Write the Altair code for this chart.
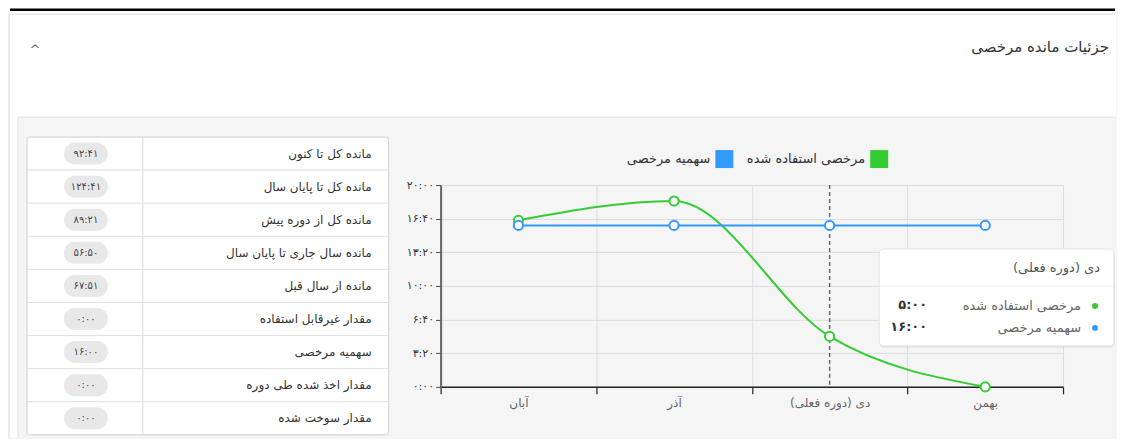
import altair as alt
import pandas as pd

FA_DIGITS = str.maketrans("0123456789", "۰۱۲۳۴۵۶۷۸۹")


def fa(s):
    return s.translate(FA_DIGITS)


def fa_hm(minutes):
    return fa(f"{minutes // 60}:{minutes % 60:02d}")


FONT = "DejaVu Sans"

# ---------------- data ----------------
panel_title = "جزئیات مانده مرخصی"
chevron = "^"

months = ["آبان", "آذر", "دی (دوره فعلی)", "بهمن"]
current_month = "دی (دوره فعلی)"
series_names = ["سهمیه مرخصی", "مرخصی استفاده شده"]
series_colors = ["#3399ff", "#33cc33"]
used_minutes = [990, 1105, 300, 0]
quota_minutes = [960, 960, 960, 960]

y_ticks = [0, 200, 400, 600, 800, 1000, 1200]
y_tick_labels = ["0:00", "3:20", "6:40", "10:00", "13:20", "16:40", "20:00"]

table_labels = [
    "مانده کل تا کنون",
    "مانده کل تا پایان سال",
    "مانده کل از دوره پیش",
    "مانده سال جاری تا پایان سال",
    "مانده از سال قبل",
    "مقدار غیرقابل استفاده",
    "سهمیه مرخصی",
    "مقدار اخذ شده طی دوره",
    "مقدار سوخت شده",
]
table_values = ["92:41", "124:41", "89:21", "56:50", "67:51", "0:00", "16:00", "0:00", "0:00"]

# ---------------- tables ----------------
W, H = 623, 202

one = pd.DataFrame({"k": [0]})
header_df = pd.DataFrame({"title": [panel_title], "chev": [chevron]})

line_df = pd.DataFrame(
    {
        "month": months * 2,
        "series": [series_names[1]] * len(months) + [series_names[0]] * len(months),
        "minutes": used_minutes + quota_minutes,
    }
)
used_df = line_df[line_df.series == series_names[1]]
quota_df = line_df[line_df.series == series_names[0]]
rule_df = pd.DataFrame({"month": [current_month]})

table_df = pd.DataFrame(
    {"label": table_labels, "value": [fa(v) for v in table_values]}
)

cur_idx = months.index(current_month)
tip_title_df = pd.DataFrame({"t": [current_month]})
tip_used_df = pd.DataFrame({"name": [series_names[1]], "val": [fa_hm(used_minutes[cur_idx])]})
tip_quota_df = pd.DataFrame({"name": [series_names[0]], "val": [fa_hm(quota_minutes[cur_idx])]})
leg_quota_df = pd.DataFrame({"name": [series_names[0]]})
leg_used_df = pd.DataFrame({"name": [series_names[1]]})

# ---------------- decoration ----------------
def vrect(df, x, x2, y, y2, **kw):
    return alt.Chart(df).mark_rect(**kw).encode(
        x=alt.value(x), x2=alt.value(x2), y=alt.value(y), y2=alt.value(y2)
    )


def hrule(x, x2, y, **kw):
    return alt.Chart(one).mark_rule(**kw).encode(
        x=alt.value(x), x2=alt.value(x2), y=alt.value(y)
    )


def vrule(x, y, y2, **kw):
    return alt.Chart(one).mark_rule(**kw).encode(
        x=alt.value(x), y=alt.value(y), y2=alt.value(y2)
    )


L, R, T, B = -433, 676, -177, 253
TB = 250  # table bottom

deco = [
    vrect(one, L, R, T, -68, fill="white"),
    vrect(one, L, -423, -68, B, fill="white"),
    hrule(-431, R - 1, -175.5, color="black", strokeWidth=2.5),
    hrule(-432, R - 1, -171, color="#dcdcdc", strokeWidth=1),
    vrule(-432, -171, B, color="#dcdcdc", strokeWidth=1),
    hrule(-423, R - 1, -68, color="#e0e0e0", strokeWidth=1),
    vrule(-423, -68, B, color="#e0e0e0", strokeWidth=1),
    alt.Chart(header_df).mark_text(
        align="right", baseline="middle", font=FONT, fontSize=15, color="#333"
    ).encode(x=alt.value(669), y=alt.value(-138), text="title:N"),
    alt.Chart(header_df).mark_text(
        align="center", baseline="middle", font=FONT, fontSize=13, color="#666"
    ).encode(x=alt.value(-406), y=alt.value(-135), text="chev:N"),
]

# ---------------- table ----------------
ty = alt.Y(
    "label:N",
    sort=table_labels,
    scale=alt.Scale(domain=table_labels, range=[-48, TB], paddingInner=0, paddingOuter=0),
    axis=None,
)
tbase = alt.Chart(table_df)
table = alt.layer(
    tbase.mark_rect(fill="white", stroke="#e2e2e2", strokeWidth=1).encode(
        y=ty, x=alt.value(-414), x2=alt.value(-298)
    ),
    tbase.mark_rect(fill="white", stroke="#e2e2e2", strokeWidth=1).encode(
        y=ty, x=alt.value(-298), x2=alt.value(-52)
    ),
    tbase.mark_rect(fill="#e8e8e8", cornerRadius=11, height=22).encode(
        y=ty, x=alt.value(-377), x2=alt.value(-333)
    ),
    tbase.mark_text(font=FONT, fontSize=10, color="#444", baseline="middle").encode(
        y=ty, x=alt.value(-355), text="value:N"
    ),
    tbase.mark_text(
        font=FONT, fontSize=12, color="#333", align="right", baseline="middle"
    ).encode(y=ty, x=alt.value(-69), text="label:N"),
    vrect(one, -414, -52, -48, TB, fill="transparent", stroke="#d8d8d8", cornerRadius=4),
)

# ---------------- line chart ----------------
label_expr = " : ".join(
    f"datum.value == {v} ? '{fa(l)}'" for v, l in zip(y_ticks, y_tick_labels)
) + " : ''"

x_axis = alt.Axis(
    title=None,
    tickBand="extent",
    grid=True,
    gridColor="#dddddd",
    domainColor="#222222",
    domainWidth=1.5,
    tickColor="#222222",
    tickSize=7,
    tickWidth=1.2,
    labelColor="#666666",
    labelFontSize=12,
    labelFont=FONT,
    labelPadding=4,
    labelAngle=0,
)
y_axis = alt.Axis(
    title=None,
    values=y_ticks,
    labelExpr=label_expr,
    grid=True,
    gridColor="#dddddd",
    domainColor="#666666",
    domainWidth=2,
    tickColor="#444444",
    tickSize=5,
    labelColor="#333333",
    labelFontSize=11,
    labelFont=FONT,
    labelPadding=2,
)

xs = alt.Scale(type="band", domain=months, paddingInner=0, paddingOuter=0)
ys = alt.Scale(domain=[0, 1200], nice=False)
X = alt.X("month:N", sort=months, scale=xs, bandPosition=0.5, axis=x_axis)
Y = alt.Y("minutes:Q", scale=ys, axis=y_axis)
cscale = alt.Scale(domain=series_names, range=series_colors)

lines = alt.layer(
    alt.Chart(rule_df).mark_rule(color="#666666", strokeDash=[4, 3], strokeWidth=1.5).encode(
        x=X, y=alt.value(0), y2=alt.value(H)
    ),
    alt.Chart(used_df).mark_line(interpolate="monotone", strokeWidth=2).encode(
        x=X, y=Y, color=alt.Color("series:N", scale=cscale, legend=None)
    ),
    alt.Chart(quota_df).mark_line(strokeWidth=2).encode(
        x=X, y=Y, color=alt.Color("series:N", scale=cscale, legend=None)
    ),
    alt.Chart(used_df).mark_point(filled=True, size=85, strokeWidth=2, opacity=1).encode(
        x=X, y=Y, fill=alt.value("white"),
        stroke=alt.Stroke("series:N", scale=cscale, legend=None),
    ),
    alt.Chart(quota_df).mark_point(filled=True, size=85, strokeWidth=2, opacity=1).encode(
        x=X, y=Y, fill=alt.value("white"),
        stroke=alt.Stroke("series:N", scale=cscale, legend=None),
    ),
)

# ---------------- legend (RTL: label left of swatch) ----------------
legend_layers = []
for df, color, sx in [(leg_quota_df, series_colors[0], 284), (leg_used_df, series_colors[1], 439)]:
    legend_layers += [
        alt.Chart(df).mark_square(size=324, filled=True, opacity=1).encode(
            x=alt.value(sx), y=alt.value(-26), color=alt.value(color)
        ),
        alt.Chart(df).mark_text(
            font=FONT, fontSize=13, color="#333", align="right", baseline="middle"
        ).encode(x=alt.value(sx - 14), y=alt.value(-26), text="name:N"),
    ]

# ---------------- tooltip panel ----------------
tip = [
    vrect(one, 439, 675, 65, 163, fill="#000000", opacity=0.06, cornerRadius=5),
    vrect(one, 439, 674, 64, 161, fill="white", stroke="#e4e4e4", cornerRadius=4),
    alt.Chart(tip_title_df).mark_text(
        font=FONT, fontSize=13, color="#555", align="right", baseline="middle"
    ).encode(x=alt.value(660), y=alt.value(83), text="t:N"),
    hrule(439, 674, 101, color="#ececec", strokeWidth=1),
]
for df, color, yy in [(tip_used_df, series_colors[1], 121), (tip_quota_df, series_colors[0], 143)]:
    tip += [
        alt.Chart(df).mark_point(filled=True, size=55, shape="circle", opacity=1,
                                 stroke="white", strokeWidth=1.5).encode(
            x=alt.value(655), y=alt.value(yy), fill=alt.value(color)
        ),
        alt.Chart(df).mark_text(
            font=FONT, fontSize=13, color="#666", align="right", baseline="middle"
        ).encode(x=alt.value(641), y=alt.value(yy), text="name:N"),
        alt.Chart(df).mark_text(
            font=FONT, fontSize=13, color="#333", fontWeight="bold", align="right",
            baseline="middle"
        ).encode(x=alt.value(487), y=alt.value(yy - 1), text="val:N"),
    ]

chart = (
    alt.layer(*deco, table, lines, *legend_layers, *tip)
    .resolve_scale(y="independent")
    .properties(width=W, height=H, padding=0, background="#f5f5f5")
    .configure_view(stroke="#dddddd", strokeWidth=1)
)

chart.save("out.html", embed_options={"renderer": "svg", "actions": False})
